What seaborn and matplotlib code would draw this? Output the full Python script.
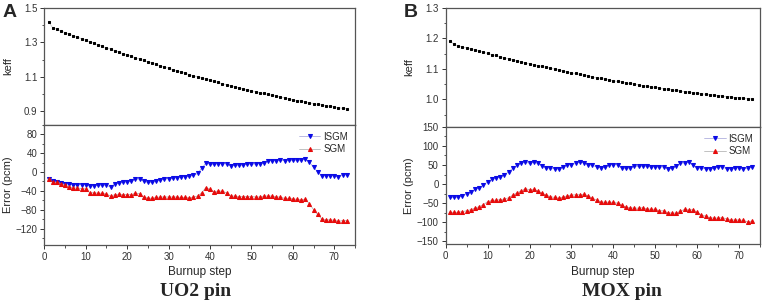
import numpy as np
import pandas as pd
import matplotlib
matplotlib.use("Agg")
import matplotlib.pyplot as plt
from matplotlib.ticker import MultipleLocator, FixedLocator
import seaborn as sns

# burnup steps 1..73
steps = list(range(1, 74))

# panel A - UO2 pin
keff_uo2 = [1.420, 1.385, 1.376, 1.366, 1.357, 1.348, 1.339, 1.330, 1.321, 1.312,
            1.303, 1.294, 1.286, 1.277, 1.268, 1.260, 1.251, 1.243, 1.235, 1.227,
            1.219, 1.211, 1.203, 1.195, 1.187, 1.179, 1.172, 1.164, 1.157, 1.149,
            1.142, 1.135, 1.128, 1.120, 1.113, 1.106, 1.099, 1.092, 1.086, 1.079,
            1.073, 1.067, 1.060, 1.054, 1.048, 1.042, 1.036, 1.030, 1.025, 1.019,
            1.014, 1.008, 1.003, 0.997, 0.992, 0.987, 0.982, 0.977, 0.972, 0.967,
            0.962, 0.958, 0.953, 0.949, 0.944, 0.940, 0.936, 0.932, 0.928, 0.924,
            0.920, 0.917, 0.914]
isgm_uo2 = [-15, -20, -22, -24, -25, -26, -27, -27, -27, -27,
            -30, -29, -28, -28, -28, -32, -25, -24, -22, -21,
            -19, -15, -15, -20, -22, -22, -20, -16, -15, -14,
            -13, -12, -10, -10, -9, -7, -3, 8, 19, 17,
            16, 18, 18, 17, 13, 14, 14, 15, 17, 17,
            17, 18, 19, 24, 24, 24, 26, 24, 25, 25,
            25, 25, 28, 21, 10, 0, -8, -8, -8, -8,
            -11, -6, -6]
sgm_uo2 = [-15, -22, -22, -25, -28, -31, -34, -34, -35, -36,
           -44, -44, -45, -45, -47, -51, -48, -47, -48, -48,
           -48, -45, -46, -54, -55, -56, -54, -53, -53, -53,
           -53, -53, -54, -54, -55, -53, -51, -44, -33, -37,
           -42, -40, -41, -44, -51, -51, -52, -52, -52, -52,
           -53, -53, -51, -51, -51, -53, -53, -56, -56, -57,
           -58, -59, -58, -67, -80, -90, -100, -101, -102, -102,
           -105, -103, -103]

# panel B - MOX pin
keff_mox = [1.193, 1.180, 1.176, 1.172, 1.169, 1.165, 1.161, 1.158, 1.154, 1.151,
            1.147, 1.144, 1.140, 1.137, 1.133, 1.130, 1.127, 1.124, 1.120, 1.117,
            1.114, 1.111, 1.108, 1.105, 1.102, 1.099, 1.096, 1.093, 1.090, 1.087,
            1.085, 1.082, 1.079, 1.077, 1.074, 1.071, 1.069, 1.066, 1.064, 1.061,
            1.059, 1.057, 1.054, 1.052, 1.050, 1.047, 1.045, 1.043, 1.041, 1.039,
            1.037, 1.035, 1.033, 1.031, 1.029, 1.027, 1.025, 1.024, 1.022, 1.020,
            1.018, 1.017, 1.015, 1.014, 1.012, 1.011, 1.009, 1.008, 1.006, 1.005,
            1.004, 1.002, 1.001]
isgm_mox = [-35, -35, -35, -31, -25, -20, -14, -10, -3, 6,
            12, 15, 19, 24, 32, 41, 49, 55, 58, 54,
            57, 54, 48, 43, 41, 40, 39, 45, 50, 51,
            54, 58, 55, 51, 49, 45, 43, 44, 50, 51,
            50, 42, 41, 42, 47, 46, 47, 46, 45, 45,
            44, 45, 40, 41, 47, 55, 55, 58, 49, 42,
            42, 40, 40, 41, 45, 45, 40, 40, 42, 43,
            40, 41, 44]
sgm_mox = [-74, -74, -74, -72, -70, -67, -63, -59, -54, -46,
           -43, -42, -41, -39, -36, -29, -23, -18, -12, -15,
           -14, -18, -24, -29, -33, -35, -37, -34, -31, -29,
           -28, -28, -27, -31, -37, -42, -46, -48, -47, -48,
           -50, -56, -60, -62, -63, -63, -62, -65, -66, -66,
           -70, -70, -75, -76, -76, -71, -66, -68, -67, -74,
           -81, -84, -88, -89, -89, -88, -91, -94, -94, -94,
           -95, -99, -97]

keff_ticks_uo2 = [0.9, 1.1, 1.3, 1.5]
keff_ticks_mox = [1.0, 1.1, 1.2, 1.3]

sns.set_style("ticks")
plt.rcParams["font.family"] = ["Liberation Sans", "DejaVu Sans"]
plt.rcParams["axes.edgecolor"] = "#555555"
plt.rcParams["axes.linewidth"] = 0.9

fig = plt.figure(figsize=(7.65, 3.04), dpi=100)

panels = [
    dict(letter="A", name="UO2 pin", keff=keff_uo2, isgm=isgm_uo2, sgm=sgm_uo2,
         left=0.058, width=0.406, top_box=(0.589, 0.385), bot_box=(0.194, 0.395),
         kylim=(0.82, 1.5), kticks=keff_ticks_uo2, kmin=0.1,
         eylim=(-155, 100), emaj=40, emin=20,
         letter_x=0.012, title_x=0.255),
    dict(letter="B", name="MOX pin", keff=keff_mox, isgm=isgm_mox, sgm=sgm_mox,
         left=0.5826, width=0.411, top_box=(0.583, 0.391), bot_box=(0.196, 0.387),
         kylim=(0.91, 1.3), kticks=keff_ticks_mox, kmin=0.05,
         eylim=(-158, 150), emaj=50, emin=25,
         letter_x=0.537, title_x=0.813),
]

for p in panels:
    df = pd.DataFrame({"step": steps, "keff": p["keff"], "ISGM": p["isgm"], "SGM": p["sgm"]})

    ax1 = fig.add_axes([p["left"], p["top_box"][0], p["width"], p["top_box"][1]])
    ax2 = fig.add_axes([p["left"], p["bot_box"][0], p["width"], p["bot_box"][1]])

    sns.lineplot(data=df, x="step", y="keff", ax=ax1, color="#999999", lw=0.3,
                 marker="s", markersize=1.8, markerfacecolor="black",
                 markeredgecolor="black")
    sns.lineplot(data=df, x="step", y="ISGM", ax=ax2, color="#a0a0d8", lw=0.5,
                 marker="v", markersize=2.9, markerfacecolor="#0a0ae6",
                 markeredgecolor="#0a0ae6", label="ISGM")
    sns.lineplot(data=df, x="step", y="SGM", ax=ax2, color="#a8a8a8", lw=0.5,
                 marker="^", markersize=2.9, markerfacecolor="#e60a0a",
                 markeredgecolor="#e60a0a", label="SGM")

    for ax in (ax1, ax2):
        ax.set_xlim(0, 75)
        ax.xaxis.set_major_locator(MultipleLocator(10))
        ax.xaxis.set_minor_locator(MultipleLocator(5))
        ax.tick_params(which="major", direction="out", length=3, width=0.7,
                       labelsize=7, colors="#333333", pad=2)
        ax.tick_params(which="minor", direction="out", length=1.8, width=0.6,
                       colors="#333333")
        for s in ax.spines.values():
            s.set_visible(True)

    ax1.set_ylim(*p["kylim"])
    ax1.yaxis.set_major_locator(FixedLocator(p["kticks"]))
    ax1.yaxis.set_minor_locator(MultipleLocator(p["kmin"]))
    ax1.tick_params(axis="x", which="both", bottom=False, labelbottom=False)
    ax1.set_xlabel("")
    ax1.set_ylabel("keff", fontsize=8)
    ax1.yaxis.set_label_coords(-0.1, 0.5)

    ax2.set_ylim(*p["eylim"])
    ax2.yaxis.set_major_locator(MultipleLocator(p["emaj"]))
    ax2.yaxis.set_minor_locator(MultipleLocator(p["emin"]))
    ax2.set_ylabel("Error (pcm)", fontsize=8)
    ax2.yaxis.set_label_coords(-0.1, 0.5)
    ax2.set_xlabel("Burnup step", fontsize=8.5, labelpad=3)
    ax2.legend(loc="upper right", frameon=False, fontsize=7, handlelength=2.2,
               handletextpad=0.3, labelspacing=0.25, borderaxespad=0.3)

    fig.text(p["letter_x"], 0.96, p["letter"], fontsize=14, fontweight="bold",
             ha="center", va="center")
    fig.text(p["title_x"], 0.042, p["name"], fontsize=14, fontweight="bold",
             ha="center", va="center", family=["Liberation Serif", "DejaVu Serif"])

fig.savefig("out.png", dpi=100)
